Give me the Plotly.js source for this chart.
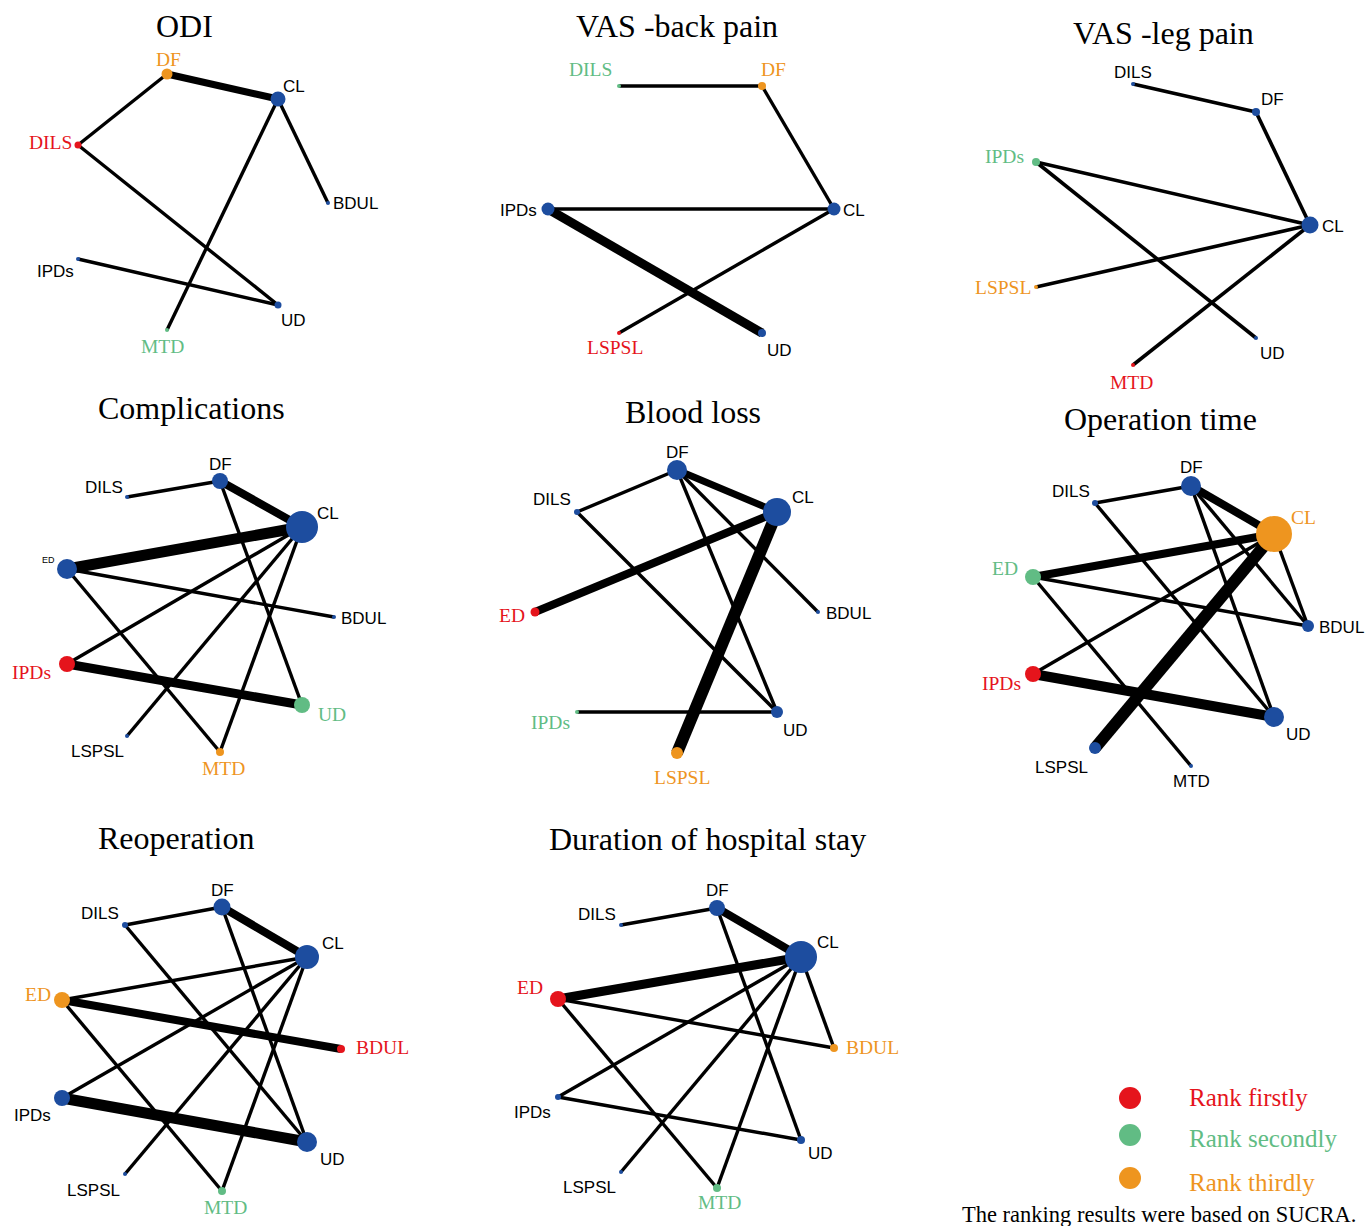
<!DOCTYPE html>
<html><head><meta charset="utf-8">
<script src="https://cdn.plot.ly/plotly-3.0.1.min.js"></script>
<style>html,body{margin:0;padding:0;background:#fff}#chart{width:1367px;height:1226px}</style>
</head><body><div id="chart"></div>
<script>
// ---------- DATA ----------
// rank: 0 = not ranked, 1 = first, 2 = second, 3 = third (SUCRA)
const odiTitle = "ODI";
const odiNodes = ["DF","CL","DILS","BDUL","IPDs","UD","MTD"];
const odiRank = [3,0,1,0,0,0,2];
const odiNodeSize = [11,15,7,4,4,7,4];
const odiEdgeFrom = ["DF","DF","DILS","CL","CL","IPDs"];
const odiEdgeTo = ["CL","DILS","UD","MTD","BDUL","UD"];
const odiEdgeWidth = [7,3.4,3.4,3.4,3.4,3.4];

const backTitle = "VAS -back pain";
const backNodes = ["DILS","DF","IPDs","CL","LSPSL","UD"];
const backRank = [2,3,0,0,1,0];
const backNodeSize = [4,8,13,13,4,8];
const backEdgeFrom = ["DILS","DF","IPDs","IPDs","CL"];
const backEdgeTo = ["DF","CL","CL","UD","LSPSL"];
const backEdgeWidth = [3.4,3.4,3.4,9,3.4];

const legTitle = "VAS -leg pain";
const legNodes = ["DILS","DF","IPDs","CL","LSPSL","UD","MTD"];
const legRank = [0,0,2,0,3,0,1];
const legNodeSize = [4,8,8,17,4,4,4];
const legEdgeFrom = ["DILS","DF","IPDs","IPDs","LSPSL","MTD"];
const legEdgeTo = ["DF","CL","CL","UD","CL","CL"];
const legEdgeWidth = [3.6,3.6,3.6,3.6,3.6,3.6];

const compTitle = "Complications";
const compNodes = ["DF","DILS","CL","ED","BDUL","IPDs","UD","LSPSL","MTD"];
const compRank = [0,0,0,0,0,1,2,0,3];
const compNodeSize = [16,4,32,20,4,16,16,4,8];
const compEdgeFrom = ["DILS","DF","DF","ED","ED","ED","CL","CL","CL","IPDs"];
const compEdgeTo = ["DF","CL","UD","CL","BDUL","MTD","IPDs","LSPSL","MTD","UD"];
const compEdgeWidth = [3.4,8,3.4,11,3.4,3.4,3.4,3.4,3.4,9];

const bloodTitle = "Blood loss";
const bloodNodes = ["DF","DILS","CL","ED","BDUL","IPDs","UD","LSPSL"];
const bloodRank = [0,0,0,1,0,2,0,3];
const bloodNodeSize = [20,6,28,9,4,4,12,12];
const bloodEdgeFrom = ["DF","DF","DF","DF","DILS","ED","CL","IPDs"];
const bloodEdgeTo = ["DILS","CL","UD","BDUL","UD","CL","LSPSL","UD"];
const bloodEdgeWidth = [3.4,7,3.4,3.4,3.4,8,12,3.4];

const opTitle = "Operation time";
const opNodes = ["DF","DILS","CL","ED","BDUL","IPDs","UD","LSPSL","MTD"];
const opRank = [0,0,3,2,0,1,0,0,0];
const opNodeSize = [20,6,36,16,12,16,20,12,4];
const opEdgeFrom = ["DILS","DILS","DF","DF","DF","CL","CL","CL","CL","ED","ED","IPDs"];
const opEdgeTo = ["DF","UD","CL","UD","BDUL","ED","IPDs","LSPSL","BDUL","BDUL","MTD","UD"];
const opEdgeWidth = [3.4,3.4,8,3.4,3.4,8,3.4,12,3.4,3.4,3.4,10];

const reopTitle = "Reoperation";
const reopNodes = ["DF","DILS","CL","ED","BDUL","IPDs","UD","LSPSL","MTD"];
const reopRank = [0,0,0,3,1,0,0,0,2];
const reopNodeSize = [17,6,24,16,8,16,20,4,8];
const reopEdgeFrom = ["DILS","DILS","DF","DF","CL","CL","CL","CL","ED","ED","IPDs"];
const reopEdgeTo = ["DF","UD","CL","UD","ED","IPDs","LSPSL","MTD","BDUL","MTD","UD"];
const reopEdgeWidth = [3.4,3.4,8,3.4,3.4,3.4,3.4,3.4,8,3.4,11];

const stayTitle = "Duration of hospital stay";
const stayNodes = ["DF","DILS","CL","ED","BDUL","IPDs","UD","LSPSL","MTD"];
const stayRank = [0,0,0,1,3,0,0,0,2];
const stayNodeSize = [16,4,32,16,8,6,8,4,8];
const stayEdgeFrom = ["DILS","DF","DF","CL","CL","CL","CL","CL","ED","ED","IPDs"];
const stayEdgeTo = ["DF","CL","UD","ED","BDUL","IPDs","LSPSL","MTD","BDUL","MTD","UD"];
const stayEdgeWidth = [3.4,8,3.4,9,3.4,3.4,3.4,3.4,3.4,3.4,3.4];

const legendLabels = ["Rank firstly","Rank secondly","Rank thirdly"];
const legendRanks = [1,2,3];
const footnote = "The ranking results were based on SUCRA.";

// ---------- GEOMETRY (page pixels: node x, node y, label x, label y) ----------
const geom = {
  odi: {title:[184,26], DF:[167,74,168,59], CL:[278,99,294,86], DILS:[78,145,50,142], BDUL:[328,203,355,203],
        IPDs:[78,259,55,271], UD:[278,305,293,320], MTD:[167,330,162,346]},
  back: {title:[677,26], DILS:[619,86,590,69], DF:[762,86,773,69], IPDs:[548,209,518,210], CL:[834,209,854,210],
         LSPSL:[619,333,615,347], UD:[762,333,779,350]},
  leg: {title:[1163,33], DILS:[1133,84,1133,72], DF:[1256,112,1272,99], IPDs:[1036,162,1004,156], CL:[1310,225,1333,226],
        LSPSL:[1036,287,1003,287], UD:[1256,338,1272,353], MTD:[1133,365,1131,382]},
  comp: {title:[191,408], DF:[220,481,220,464], DILS:[127,497,104,487], CL:[302,527,328,513], ED:[67,569,48,560],
         BDUL:[334,617,363,618], IPDs:[67,664,31,672], UD:[302,705,332,714], LSPSL:[127,736,97,751], MTD:[220,752,223,768]},
  blood: {title:[693,412], DF:[677,470,677,452], DILS:[577,512,552,499], CL:[777,512,803,497], ED:[535,612,512,615],
          BDUL:[818,612,848,613], IPDs:[577,712,550,722], UD:[777,712,795,730], LSPSL:[677,753,682,777]},
  op: {title:[1160,419], DF:[1191,486,1191,467], DILS:[1095,503,1071,491], CL:[1274,534,1303,517], ED:[1033,577,1005,568],
       BDUL:[1308,626,1341,627], IPDs:[1033,674,1001,683], UD:[1274,717,1298,734], LSPSL:[1095,748,1061,767], MTD:[1191,766,1191,781]},
  reop: {title:[176,838], DF:[222,907,222,890], DILS:[125,925,100,913], CL:[307,957,333,943], ED:[62,1000,38,994],
         BDUL:[341,1049,382,1047], IPDs:[62,1098,32,1115], UD:[307,1142,332,1159], LSPSL:[125,1174,93,1190], MTD:[222,1191,225,1207]},
  stay: {title:[707,839], DF:[717,908,717,890], DILS:[621,925,597,914], CL:[801,957,828,942], ED:[558,999,530,987],
         BDUL:[834,1048,872,1047], IPDs:[558,1097,532,1112], UD:[801,1140,820,1153], LSPSL:[621,1172,589,1187], MTD:[717,1188,719,1202]}
};
const legendGeom = {markerX:1130, markerY:[1098,1135,1178], textX:1187, textY:[1097,1138,1182], noteX:1159, noteY:1214};

// ---------- STYLE ----------
const rankColor = {0:"#1D4D9F", 1:"#E5141C", 2:"#61BC84", 3:"#EE951F"};
const SERIF = "Liberation Serif, Times New Roman, serif";
const SANS = "Liberation Sans, Arial, sans-serif";

const panels = [
  {key:"odi", title:odiTitle, nodes:odiNodes, rank:odiRank, size:odiNodeSize, from:odiEdgeFrom, to:odiEdgeTo, w:odiEdgeWidth},
  {key:"back", title:backTitle, nodes:backNodes, rank:backRank, size:backNodeSize, from:backEdgeFrom, to:backEdgeTo, w:backEdgeWidth},
  {key:"leg", title:legTitle, nodes:legNodes, rank:legRank, size:legNodeSize, from:legEdgeFrom, to:legEdgeTo, w:legEdgeWidth},
  {key:"comp", title:compTitle, nodes:compNodes, rank:compRank, size:compNodeSize, from:compEdgeFrom, to:compEdgeTo, w:compEdgeWidth, small:{ED:true}},
  {key:"blood", title:bloodTitle, nodes:bloodNodes, rank:bloodRank, size:bloodNodeSize, from:bloodEdgeFrom, to:bloodEdgeTo, w:bloodEdgeWidth},
  {key:"op", title:opTitle, nodes:opNodes, rank:opRank, size:opNodeSize, from:opEdgeFrom, to:opEdgeTo, w:opEdgeWidth},
  {key:"reop", title:reopTitle, nodes:reopNodes, rank:reopRank, size:reopNodeSize, from:reopEdgeFrom, to:reopEdgeTo, w:reopEdgeWidth},
  {key:"stay", title:stayTitle, nodes:stayNodes, rank:stayRank, size:stayNodeSize, from:stayEdgeFrom, to:stayEdgeTo, w:stayEdgeWidth}
];

const traces = [];
const annotations = [];

panels.forEach(p => {
  const g = geom[p.key];
  // edges
  p.from.forEach((a, i) => {
    const b = p.to[i];
    traces.push({type:"scatter", mode:"lines", x:[g[a][0], g[b][0]], y:[g[a][1], g[b][1]],
      line:{color:"#000000", width:p.w[i]}, hoverinfo:"skip", showlegend:false});
  });
  // nodes
  traces.push({type:"scatter", mode:"markers",
    x:p.nodes.map(n => g[n][0]), y:p.nodes.map(n => g[n][1]),
    marker:{size:p.size, color:p.rank.map(r => rankColor[r]), line:{width:0}, opacity:1},
    text:p.nodes, hoverinfo:"text", showlegend:false});
  // labels
  p.nodes.forEach((n, i) => {
    const r = p.rank[i];
    const tiny = p.small && p.small[n];
    annotations.push({x:g[n][2], y:g[n][3], xref:"x", yref:"y", text:n, showarrow:false,
      xanchor:"center", yanchor:"middle",
      font: r > 0 ? {family:SERIF, size:19.5, color:rankColor[r]}
                  : {family:SANS, size: tiny ? 9 : 17, color:"#000000"}});
  });
  // title
  annotations.push({x:g.title[0], y:g.title[1], xref:"x", yref:"y", text:p.title, showarrow:false,
    xanchor:"center", yanchor:"middle", font:{family:SERIF, size:32, color:"#000000"}});
});

// legend
traces.push({type:"scatter", mode:"markers",
  x:legendRanks.map(() => legendGeom.markerX), y:legendGeom.markerY,
  marker:{size:22, color:legendRanks.map(r => rankColor[r]), line:{width:0}},
  hoverinfo:"skip", showlegend:false});
legendLabels.forEach((t, i) => {
  annotations.push({x:legendGeom.textX, y:legendGeom.textY[i], xref:"x", yref:"y", text:t, showarrow:false,
    xanchor:"left", yanchor:"middle", font:{family:SERIF, size:25, color:rankColor[legendRanks[i]]}});
});
annotations.push({x:legendGeom.noteX, y:legendGeom.noteY, xref:"x", yref:"y", text:footnote, showarrow:false,
  xanchor:"center", yanchor:"middle", font:{family:SERIF, size:22.5, color:"#000000"}});

const layout = {
  width:1367, height:1226,
  margin:{l:0, r:0, t:0, b:0, pad:0},
  paper_bgcolor:"#ffffff", plot_bgcolor:"#ffffff",
  xaxis:{range:[0,1367], visible:false, fixedrange:true},
  yaxis:{range:[1226,0], visible:false, fixedrange:true},
  showlegend:false,
  annotations:annotations,
  hovermode:"closest"
};

Plotly.newPlot("chart", traces, layout, {displayModeBar:false});
</script></body></html>
